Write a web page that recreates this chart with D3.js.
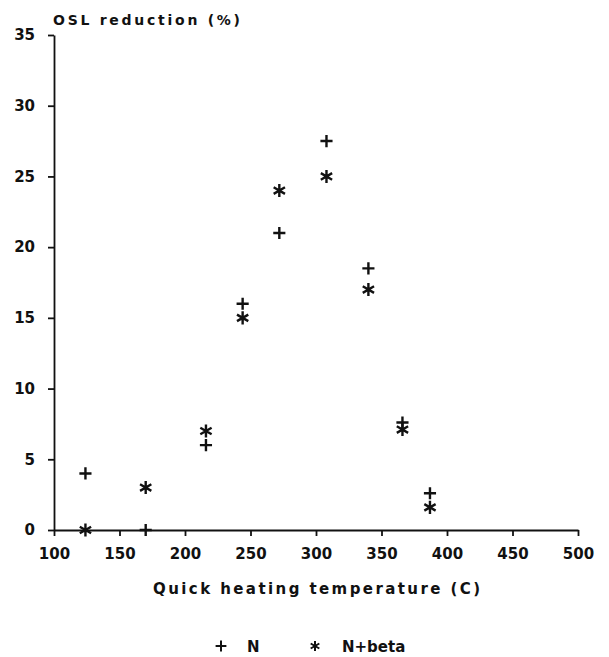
<!DOCTYPE html>
<html>
<head>
<meta charset="utf-8">
<script src="https://cdn.jsdelivr.net/npm/d3@7"></script>
<style>
	body { margin: 0; background: #fff; }
	svg { display: block; }
	text { font-family: 'DejaVu Sans', sans-serif; font-weight: bold; fill: #111; }
	.domain, .tick line { stroke: #111; stroke-width: 1.8; }
</style>
</head>
<body>
<div id="chart"></div>
<script>
const WIDTH = 609;
const HEIGHT = 657;

// quick heating temperatures (C)
const temps = [124, 170, 216, 244, 272, 308, 340, 366, 387];
// OSL reduction (%), natural
const seriesN = [4.0, 0, 6.0, 16.0, 21.0, 27.5, 18.5, 7.6, 2.6];
// OSL reduction (%), natural + beta dose
const seriesNBeta = [0, 3.0, 7.0, 15.0, 24.0, 25.0, 17.0, 7.1, 1.6];

const xTicks = [100, 150, 200, 250, 300, 350, 400, 450, 500];
const yTicks = [0, 5, 10, 15, 20, 25, 30, 35];

const legendItems = [
	{ label: 'N', symbol: d3.symbolPlus },
	{ label: 'N+beta', symbol: d3.symbolAsterisk }
];

const x = d3.scaleLinear().domain([100, 500]).range([54, 578]);
const y = d3.scaleLinear().domain([0, 35]).range([530, 35]);

const $svg = d3.select('#chart')
	.append('svg')
	.attr('width', WIDTH)
	.attr('height', HEIGHT);

function drawAxes() {
	const $x = $svg.append('g')
		.attr('transform', `translate(0,${y(0)})`)
		.call(d3.axisBottom(x).tickValues(xTicks).tickSize(6).tickSizeOuter(0).tickPadding(12));
	$x.selectAll('text').style('font-size', '15px');

	const $y = $svg.append('g')
		.attr('transform', `translate(${x(100)},0)`)
		.call(d3.axisLeft(y).tickValues(yTicks).tickSize(6).tickSizeOuter(0).tickPadding(13));
	$y.selectAll('text').style('font-size', '15px');

	$svg.append('text')
		.attr('x', 53)
		.attr('y', 25)
		.style('font-size', '14px')
		.attr('textLength', 187)
		.text('OSL reduction (%)');

	$svg.append('text')
		.attr('x', 153)
		.attr('y', 594)
		.style('font-size', '15px')
		.attr('textLength', 327)
		.text('Quick heating temperature (C)');
}

function drawSeries(values, symbol, size) {
	const path = d3.symbol().type(symbol).size(size);
	$svg.append('g')
		.selectAll('path')
		.data(values)
		.enter()
		.append('path')
		.attr('transform', (d, i) => `translate(${x(temps[i])},${y(d)})`)
		.attr('d', path)
		.attr('fill', 'none')
		.attr('stroke', '#111')
		.attr('stroke-width', 2.4);
}

function drawLegend() {
	const pos = [{ sx: 221, tx: 247 }, { sx: 315, tx: 342 }];
	const $item = $svg.append('g')
		.selectAll('g')
		.data(legendItems)
		.enter()
		.append('g');

	$item.append('path')
		.attr('transform', (d, i) => `translate(${pos[i].sx},646)`)
		.attr('d', d => d3.symbol().type(d.symbol).size(d.symbol === d3.symbolPlus ? 40 : 70)())
		.attr('fill', 'none')
		.attr('stroke', '#111')
		.attr('stroke-width', 2);

	$item.append('text')
		.attr('x', (d, i) => pos[i].tx)
		.attr('y', 652)
		.style('font-size', '15px')
		.text(d => d.label);
}

drawAxes();
drawSeries(seriesN, d3.symbolPlus, 50);
drawSeries(seriesNBeta, d3.symbolAsterisk, 120);
drawLegend();
</script>
</body>
</html>
